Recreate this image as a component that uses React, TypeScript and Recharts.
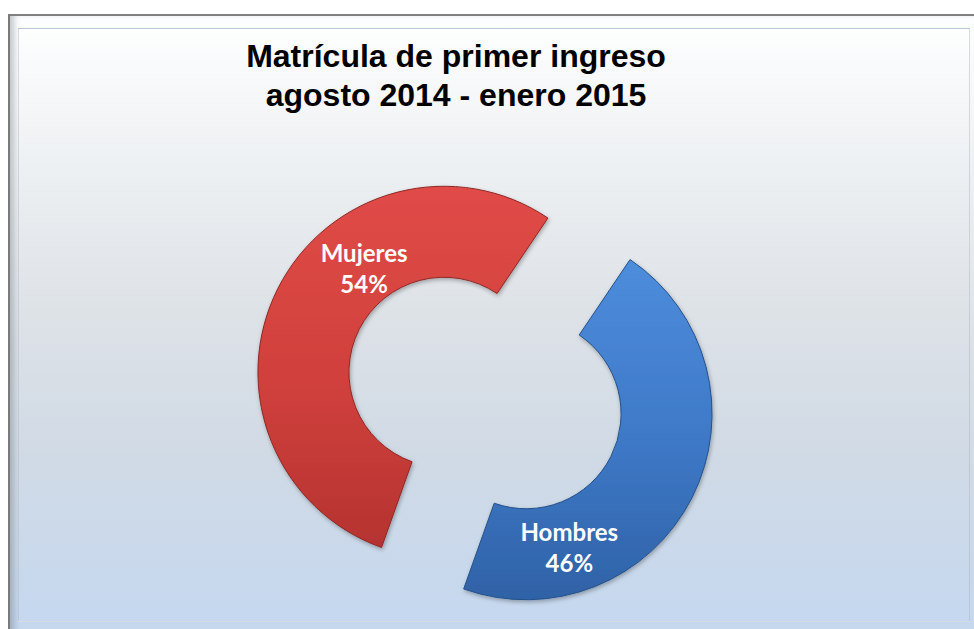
import React from 'react';
import { PieChart, Pie, Cell, Sector } from 'recharts';

const categories = ['Mujeres', 'Hombres'];
const shares = [54, 46];
const sliceColors = ['url(#gradRed)', 'url(#gradBlue)'];
const titleLines = ['Matrícula de primer ingreso', 'agosto 2014 - enero 2015'];

const data = categories.map((name, i) => ({ name, value: shares[i] }));

const RAD = Math.PI / 180;
const EXPLODE = 46;
const LABEL_ANGLE_SHIFT = [-28, -45];
const LABEL_DY = [3, -4];

const offset = (midAngle: number) => ({
  dx: EXPLODE * Math.cos(-midAngle * RAD),
  dy: EXPLODE * Math.sin(-midAngle * RAD),
});

const ExplodedSector = (props: any) => {
  const { cx, cy, midAngle, innerRadius, outerRadius, startAngle, endAngle, fill, index } = props;
  const { dx, dy } = offset(midAngle);
  const strokes = ['#8f2724', '#24508a'];
  return (
    <Sector
      cx={cx + dx}
      cy={cy + dy}
      innerRadius={innerRadius}
      outerRadius={outerRadius}
      startAngle={startAngle}
      endAngle={endAngle}
      fill={fill}
      stroke={strokes[index] ?? '#555'}
      strokeWidth={1}
      filter="url(#sliceShadow)"
    />
  );
};

const renderLabel = (props: any) => {
  const { cx, cy, midAngle, innerRadius, outerRadius, index, name, percent } = props;
  const { dx, dy } = offset(midAngle);
  const r = (innerRadius + outerRadius) / 2 - 2;
  const a = midAngle + (LABEL_ANGLE_SHIFT[index] ?? 0);
  const x = cx + dx + r * Math.cos(-a * RAD);
  const y = cy + dy + r * Math.sin(-a * RAD);
  return (
    <text
      x={x}
      y={y}
      textAnchor="middle"
      fill="#ffffff"
      style={{ fontFamily: 'Lato, "Open Sans", sans-serif', fontWeight: 700, fontSize: 24 }}
    >
      <tspan x={x} dy={LABEL_DY[index] ?? 0}>{name}</tspan>
      <tspan x={x} dy={31}>{`${Math.round(percent * 100)}%`}</tspan>
    </text>
  );
};

export default function App() {
  return (
    <div style={{ position: 'absolute', left: 0, top: 0, width: 974, height: 629, overflow: 'hidden', background: '#ffffff' }}>
      <div
        style={{
          position: 'absolute',
          left: 8,
          top: 14,
          width: 980,
          height: 630,
          borderTop: '2px solid #808080',
          borderLeft: '2px solid #7a7a7a',
          background: 'linear-gradient(to bottom, #fdfefe 0%, #eef1f3 25%, #dbe1e6 52%, #cfdae6 75%, #c4d7ee 100%)',
          boxShadow: 'inset 7px 0 6px -3px rgba(90,100,110,0.35)',
        }}
      />
      <div
        style={{
          position: 'absolute',
          left: 18,
          top: 28,
          width: 952,
          height: 594,
          border: '1px solid rgba(170,180,190,0.45)',
          boxSizing: 'border-box',
          background: 'linear-gradient(to bottom, #fdfefe 0%, #eef1f3 22%, #dde2e7 48%, #d0dae5 72%, #c5d8ef 100%)',
        }}
      />
      <div
        style={{
          position: 'absolute',
          left: 0,
          top: 37,
          width: 912,
          textAlign: 'center',
          fontFamily: '"Liberation Sans", Arial, sans-serif',
          fontWeight: 700,
          fontSize: 32,
          lineHeight: '39px',
          color: '#000000',
        }}
      >
        {titleLines.map((t) => (
          <div key={t}>{t}</div>
        ))}
      </div>
      <div style={{ position: 'absolute', left: 0, top: 0 }}>
        <PieChart width={974} height={629} margin={{ top: 0, right: 0, bottom: 0, left: 0 }}>
          <defs>
            <linearGradient id="gradRed" x1="0" y1="0" x2="0" y2="1">
              <stop offset="0%" stopColor="#e04b47" />
              <stop offset="55%" stopColor="#d0403c" />
              <stop offset="100%" stopColor="#b53330" />
            </linearGradient>
            <linearGradient id="gradBlue" x1="0" y1="0" x2="0" y2="1">
              <stop offset="0%" stopColor="#4d8ddc" />
              <stop offset="55%" stopColor="#3d78c6" />
              <stop offset="100%" stopColor="#2f62a6" />
            </linearGradient>
            <filter id="sliceShadow" x="-20%" y="-20%" width="140%" height="140%">
              <feDropShadow dx="1" dy="2" stdDeviation="2" floodColor="#000000" floodOpacity="0.3" />
            </filter>
          </defs>
          <Pie
            data={data}
            dataKey="value"
            nameKey="name"
            cx={485}
            cy={393}
            innerRadius={95}
            outerRadius={186}
            startAngle={56}
            endAngle={416}
            stroke="none"
            isAnimationActive={false}
            shape={ExplodedSector}
            label={renderLabel}
            labelLine={false}
          >
            {data.map((d, i) => (
              <Cell key={d.name} fill={sliceColors[i]} />
            ))}
          </Pie>
        </PieChart>
      </div>
    </div>
  );
}
